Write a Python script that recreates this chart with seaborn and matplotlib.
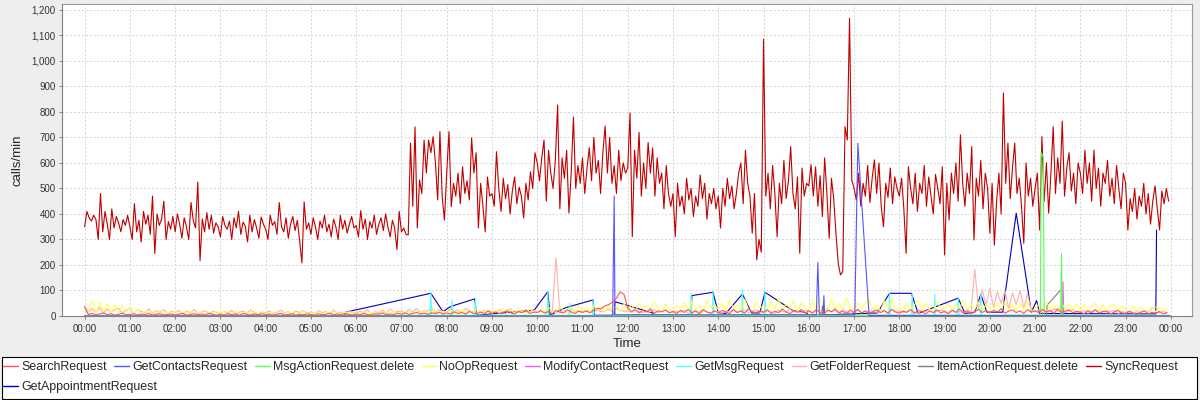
import pandas as pd
import matplotlib
matplotlib.use("Agg")
import matplotlib.pyplot as plt
import matplotlib.dates as mdates
from matplotlib.lines import Line2D
from matplotlib.patches import Rectangle
from matplotlib.ticker import FuncFormatter, MultipleLocator
import seaborn as sns

# day the samples belong to
day = "2024-01-01"

series_names = ["SearchRequest", "GetContactsRequest", "MsgActionRequest.delete", "NoOpRequest",
                "ModifyContactRequest", "GetMsgRequest", "GetFolderRequest", "ItemActionRequest.delete",
                "SyncRequest", "GetAppointmentRequest"]
series_colors = ["#FF5555", "#5555FF", "#55FF55", "#FFFF55", "#FF55FF",
                 "#55FFFF", "#FFAFAF", "#808080", "#C00000", "#0000C0"]

# SyncRequest, one value every 3 minutes (20 per hour)
sync_calls = [
    350, 410, 385, 372, 395, 378, 300, 480, 330, 410, 360, 300, 420, 345, 390, 365, 330, 378, 355, 395,
    350, 300, 440, 330, 375, 290, 410, 360, 395, 320, 470, 245, 400, 355, 380, 450, 300, 370, 340, 390,
    330, 400, 360, 305, 385, 350, 300, 445, 375, 345, 525, 217, 380, 330, 405, 340, 395, 325, 365, 350,
    310, 390, 355, 340, 372, 300, 385, 345, 410, 320, 368, 352, 290, 395, 330, 378, 345, 305, 388, 360,
    340, 300, 395, 355, 370, 320, 445, 350, 330, 385, 305, 360, 390, 335, 375, 295, 208, 447, 340, 365,
    320, 385, 350, 300, 372, 345, 395, 330, 360, 310, 380, 350, 300, 395, 340, 375, 325, 360, 390, 345,
    355, 310, 413, 340, 380, 300, 370, 345, 395, 320, 360, 385, 335, 400, 350, 310, 375, 345, 260, 410,
    330, 345, 320, 318, 678, 430, 741, 345, 533, 480, 690, 560, 690, 640, 703, 600, 455, 723, 468, 376,
    560, 723, 429, 520, 470, 560, 440, 585, 480, 530, 455, 698, 560, 640, 345, 520, 430, 330, 545, 470,
    480, 430, 644, 500, 410, 540, 460, 515, 400, 490, 545, 440, 505, 470, 384, 520, 455, 565, 500, 640,
    600, 530, 620, 690, 450, 650, 560, 500, 610, 827, 420, 620, 540, 650, 404, 560, 780, 500, 590, 520,
    620, 480, 580, 660, 530, 700, 560, 610, 480, 640, 745, 560, 700, 520, 590, 480, 650, 530, 600, 560,
    580, 796, 311, 650, 540, 720, 470, 600, 500, 680, 560, 659, 470, 620, 520, 560, 420, 590, 480, 430,
    480, 311, 520, 430, 470, 400, 540, 455, 500, 390, 470, 430, 553, 460, 520, 380, 480, 440, 500, 420,
    470, 345, 500, 430, 540, 460, 510, 420, 480, 560, 600, 440, 650, 520, 470, 325, 480, 220, 300, 250,
    1085, 470, 560, 420, 590, 480, 311, 520, 440, 610, 460, 530, 664, 480, 420, 545, 246, 580, 470, 520,
    510, 593, 470, 585, 430, 550, 390, 620, 480, 305, 540, 460, 325, 207, 161, 174, 742, 690, 1167, 533,
    500, 455, 560, 430, 520, 470, 590, 445, 540, 612, 480, 600, 430, 350, 520, 465, 580, 440, 545, 500,
    470, 540, 420, 246, 585, 500, 440, 560, 410, 520, 480, 590, 430, 545, 470, 400, 555, 500, 440, 585,
    239, 520, 376, 560, 480, 600, 450, 710, 520, 430, 560, 480, 664, 298, 540, 470, 610, 420, 560, 500,
    325, 520, 278, 450, 560, 400, 874, 520, 678, 460, 580, 678, 480, 540, 430, 285, 600, 470, 540, 430,
    500, 560, 337, 703, 450, 600, 403, 560, 742, 480, 620, 520, 764, 470, 580, 640, 490, 560, 440, 600,
    560, 480, 650, 520, 600, 450, 650, 500, 580, 430, 560, 520, 610, 470, 540, 440, 590, 500, 420, 560,
    520, 337, 460, 410, 500, 380, 470, 430, 520, 400, 480, 360, 450, 510, 420, 337, 490, 440, 500, 450,
]

# NoOpRequest, one value every 5 minutes (12 per hour)
noop_calls = [
    5, 20, 63, 12, 56, 15, 50, 10, 43, 12, 43, 15,
    36, 10, 25, 8, 20, 12, 18, 6, 22, 10, 15, 8,
    18, 6, 14, 9, 20, 7, 12, 16, 5, 13, 8, 17,
    10, 15, 6, 12, 18, 7, 11, 14, 6, 16, 9, 12,
    8, 13, 16, 6, 11, 9, 15, 7, 12, 10, 17, 8,
    12, 7, 14, 9, 16, 8, 11, 13, 6, 15, 10, 12,
    9, 14, 8, 17, 11, 13, 7, 16, 10, 12, 18, 9,
    14, 11, 19, 9, 16, 13, 20, 10, 15, 22, 12, 18,
    10, 22, 8, 18, 26, 10, 20, 12, 28, 9, 19, 25,
    12, 24, 10, 30, 14, 26, 9, 32, 16, 11, 28, 15,
    14, 30, 12, 34, 18, 13, 38, 20, 12, 34, 17, 40,
    18, 36, 15, 42, 22, 38, 16, 45, 24, 40, 18, 48,
    22, 45, 18, 50, 28, 40, 20, 55, 30, 17, 48, 25,
    20, 42, 26, 52, 18, 58, 24, 40, 16, 60, 30, 45,
    25, 50, 19, 62, 30, 44, 22, 66, 28, 18, 55, 32,
    40, 20, 58, 26, 68, 22, 48, 30, 62, 18, 52, 27,
    24, 60, 20, 70, 35, 18, 64, 28, 50, 22, 72, 30,
    20, 55, 28, 48, 65, 22, 44, 18, 58, 30, 62, 24,
    35, 18, 52, 26, 44, 60, 20, 50, 28, 16, 56, 30,
    22, 50, 18, 46, 30, 62, 20, 44, 26, 54, 17, 48,
    30, 20, 52, 24, 58, 22, 45, 16, 50, 28, 55, 20,
    26, 48, 18, 56, 28, 44, 20, 52, 24, 46, 15, 50,
    22, 45, 16, 40, 50, 20, 44, 15, 38, 46, 18, 40,
    28, 15, 40, 18, 35, 22, 14, 38, 16, 32, 20, 30,
]

# SearchRequest, every 5 minutes
search_calls = [
    35, 6, 10, 4, 8, 12, 5, 9, 3, 7, 11, 5,
    6, 9, 4, 8, 5, 10, 3, 7, 9, 4, 6, 8,
    4, 7, 10, 3, 6, 9, 5, 8, 4, 11, 6, 3,
    7, 4, 9, 5, 8, 3, 10, 6, 4, 8, 5, 9,
    5, 8, 3, 7, 10, 4, 6, 9, 3, 7, 5, 8,
    6, 3, 9, 5, 7, 11, 4, 8, 5, 10, 6, 4,
    8, 5, 10, 6, 4, 9, 7, 12, 5, 8, 6, 11,
    7, 12, 6, 10, 14, 8, 11, 6, 13, 9, 15, 8,
    12, 8, 16, 10, 14, 7, 18, 11, 9, 15, 10, 20,
    10, 16, 9, 14, 20, 12, 8, 17, 13, 22, 10, 15,
    14, 20, 11, 18, 9, 22, 15, 12, 24, 16, 10, 19,
    14, 20, 12, 24, 30, 28, 40, 45, 55, 70, 95, 85,
    30, 18, 25, 12, 22, 15, 28, 10, 20, 16, 24, 12,
    18, 10, 22, 14, 26, 12, 19, 8, 24, 15, 11, 20,
    12, 22, 16, 9, 25, 14, 20, 11, 28, 17, 13, 21,
    15, 24, 10, 19, 13, 27, 16, 9, 22, 14, 26, 12,
    20, 11, 25, 15, 8, 22, 17, 28, 12, 19, 10, 23,
    14, 26, 12, 20, 9, 18, 24, 13, 21, 10, 27, 15,
    11, 19, 14, 25, 10, 22, 16, 8, 20, 13, 24, 12,
    18, 10, 23, 15, 27, 12, 20, 9, 17, 26, 14, 21,
    12, 22, 16, 28, 11, 19, 24, 13, 20, 10, 25, 15,
    20, 13, 26, 16, 22, 10, 28, 14, 19, 24, 12, 18,
    15, 9, 21, 13, 24, 11, 17, 20, 8, 16, 22, 12,
    10, 18, 12, 7, 15, 20, 9, 14, 11, 17, 8, 13,
]

# GetFolderRequest, every 5 minutes
folder_calls = [
    40, 15, 30, 12, 35, 10, 28, 14, 25, 30, 12, 22,
    30, 10, 25, 18, 12, 28, 9, 20, 15, 24, 11, 18,
    14, 22, 8, 19, 12, 25, 10, 16, 21, 7, 18, 13,
    9, 17, 12, 22, 8, 15, 19, 10, 24, 13, 7, 16,
    12, 20, 9, 15, 23, 11, 17, 8, 19, 14, 21, 10,
    16, 9, 21, 13, 18, 7, 24, 12, 15, 10, 20, 14,
    11, 19, 14, 25, 9, 17, 13, 22, 10, 28, 15, 18,
    20, 12, 26, 16, 30, 14, 22, 18, 32, 13, 25, 17,
    15, 28, 18, 24, 12, 30, 20, 16, 26, 14, 22, 19,
    18, 13, 25, 16, 22, 28, 12, 20, 15, 26, 17, 23,
    16, 24, 14, 20, 18, 227, 15, 22, 12, 26, 17, 21,
    14, 22, 18, 12, 25, 16, 20, 28, 15, 30, 22, 18,
    20, 14, 24, 17, 12, 22, 16, 26, 13, 19, 23, 15,
    12, 20, 15, 24, 10, 18, 22, 14, 27, 16, 11, 19,
    17, 11, 22, 15, 26, 13, 19, 24, 12, 18, 25, 14,
    13, 21, 16, 10, 24, 18, 14, 28, 15, 20, 12, 23,
    19, 14, 25, 12, 18, 30, 16, 22, 13, 27, 17, 11,
    15, 24, 12, 20, 16, 28, 14, 19, 23, 11, 26, 17,
    21, 13, 18, 25, 15, 10, 22, 17, 28, 14, 19, 24,
    15, 8, 20, 12, 18, 10, 25, 14, 184, 30, 102, 40,
    108, 35, 95, 50, 100, 28, 90, 45, 100, 30, 87, 20,
    18, 25, 12, 22, 15, 30, 17, 24, 13, 20, 26, 14,
    16, 22, 11, 19, 25, 14, 20, 12, 18, 23, 10, 17,
    14, 20, 10, 17, 12, 22, 15, 30, 35, 13, 18, 11,
]

# sparse series: only the minutes that were logged
appt_times = ["00:00", "05:45", "05:46", "07:39", "07:55", "08:05", "08:37", "08:40", "09:56", "10:14",
              "10:17", "10:38", "11:14", "11:16", "11:42", "11:43", "12:33", "12:34", "13:24", "13:25",
              "13:53", "14:00", "14:10", "14:32", "14:44", "14:55", "15:02", "15:39", "15:57", "16:00",
              "17:31", "17:47", "18:16", "18:25", "19:18", "19:27", "19:40", "19:48", "19:56", "20:17",
              "20:35", "20:55", "21:02", "21:06", "23:40", "23:41"]
appt_calls = [1, 1, 15, 89, 17, 37, 67, 3, 23, 95,
              3, 33, 63, 3, 3, 56, 12, 2, 2, 80,
              93, 13, 10, 86, 12, 12, 93, 21, 13, 2,
              12, 89, 89, 10, 70, 10, 15, 85, 15, 15,
              403, 15, 60, 10, 8, 337]

contacts_times = ["00:00", "11:40", "11:42", "11:43", "16:10", "16:12", "16:14", "16:19", "16:20", "16:21",
                  "17:01", "17:05", "17:19", "17:20", "23:59"]
contacts_calls = [0, 0, 470, 5, 5, 209, 5, 5, 80, 5,
                  5, 677, 43, 2, 0]

msg_times = ["00:00", "07:38", "07:39", "07:40", "08:06", "08:07", "08:08", "08:37", "08:38", "08:39",
             "10:13", "10:14", "10:15", "10:42", "10:43", "10:44", "11:13", "11:14", "11:15",
             "13:23", "13:24", "13:25", "13:52", "13:53", "13:54", "14:31", "14:32", "14:33",
             "15:01", "15:02", "15:03", "17:46", "17:47", "17:48", "18:16", "18:17", "18:18",
             "18:46", "18:47", "18:48", "19:17", "19:18", "19:19", "19:47", "19:48", "19:49", "23:59"]
msg_calls = [3, 3, 95, 3, 3, 63, 3, 3, 67, 3,
             3, 95, 3, 3, 50, 3, 3, 63, 3,
             3, 89, 3, 3, 94, 3, 3, 105, 3,
             3, 98, 3, 3, 94, 3, 3, 89, 3,
             3, 85, 3, 3, 70, 3, 3, 85, 3, 3]

msgdel_times = ["00:00", "21:07", "21:08", "21:11", "21:12", "21:34", "21:35", "21:36", "23:59"]
msgdel_calls = [0, 3, 640, 620, 3, 3, 246, 3, 0]

modify_times = ["00:00", "21:36", "21:37", "21:38", "23:59"]
modify_calls = [0, 2, 134, 2, 0]

itemdel_times = ["00:00", "16:17", "16:18", "16:19", "21:15", "21:16", "21:35", "21:36", "23:59"]
itemdel_calls = [0, 2, 40, 2, 2, 43, 105, 2, 0]


def regular(values, step):
    return pd.DataFrame({"time": pd.date_range(day, periods=len(values), freq=step), "calls": values})


def sparse(times, values):
    return pd.DataFrame({"time": pd.to_datetime([day + " " + t for t in times]), "calls": values})


frames = {
    "SearchRequest": regular(search_calls, "5min"),
    "GetContactsRequest": sparse(contacts_times, contacts_calls),
    "MsgActionRequest.delete": sparse(msgdel_times, msgdel_calls),
    "NoOpRequest": regular(noop_calls, "5min"),
    "ModifyContactRequest": sparse(modify_times, modify_calls),
    "GetMsgRequest": sparse(msg_times, msg_calls),
    "GetFolderRequest": regular(folder_calls, "5min"),
    "ItemActionRequest.delete": sparse(itemdel_times, itemdel_calls),
    "SyncRequest": regular(sync_calls, "3min"),
    "GetAppointmentRequest": sparse(appt_times, appt_calls),
}

sns.set_style("white")
plt.rcParams["font.family"] = ["Liberation Sans", "DejaVu Sans"]

fig = plt.figure(figsize=(12, 4), dpi=100, facecolor="#EEEEEE")
ax = fig.add_axes([62 / 1200, 84 / 400, 1130 / 1200, 312 / 400])
ax.set_facecolor("white")

# first series ends up on top, like the original renderer
for i in reversed(range(len(series_names))):
    name = series_names[i]
    sns.lineplot(data=frames[name], x="time", y="calls", color=series_colors[i], lw=0.8,
                 estimator=None, sort=False, legend=False, ax=ax, zorder=3 + (10 - i) * 0.1)

start = pd.Timestamp(day)
ax.set_xlim(start - pd.Timedelta(minutes=30), start + pd.Timedelta(hours=24, minutes=28))
ax.set_ylim(0, 1223)
ax.xaxis.set_major_locator(mdates.HourLocator())
ax.xaxis.set_major_formatter(mdates.DateFormatter("%H:%M"))
ax.yaxis.set_major_locator(MultipleLocator(100))
ax.yaxis.set_major_formatter(FuncFormatter(lambda v, p: f"{v:,.0f}"))

ax.grid(True, color="#D4D4D4", linestyle=(0, (2, 2)), linewidth=0.7)
ax.set_axisbelow(True)
for s in ax.spines.values():
    s.set_color("#999999")
    s.set_linewidth(0.8)
ax.spines["left"].set_color("#808080")
ax.spines["bottom"].set_color("#808080")
ax.tick_params(axis="both", direction="out", length=2.5, width=0.7, color="#808080",
               labelsize=7, labelcolor="#333333", pad=2)
ax.tick_params(axis="y", left=True)
ax.tick_params(axis="x", bottom=True, pad=3)

ax.set_xlabel("Time", fontsize=9.5, labelpad=3)
ax.set_ylabel("calls/min", fontsize=9.5, labelpad=6)

# legend box below the plot
handles = [Line2D([0], [0], color=c, lw=1) for c in series_colors]
fig.add_artist(Rectangle((2 / 1200, 1.5 / 400), 1195 / 1200, 41.5 / 400, transform=fig.transFigure,
                         facecolor="white", edgecolor="black", lw=0.8, zorder=1))
leg_kw = dict(loc="center left", frameon=False, fontsize=8.9, handlelength=1.2, handletextpad=0.25,
              columnspacing=0.62, borderpad=0, borderaxespad=0)
fig.legend(handles[:9], series_names[:9], ncol=9, bbox_to_anchor=(3 / 1200, 33 / 400), **leg_kw)
fig.legend(handles[9:], series_names[9:], ncol=1, bbox_to_anchor=(3 / 1200, 13 / 400), **leg_kw)

plt.savefig("out.png", dpi=100, facecolor=fig.get_facecolor())
